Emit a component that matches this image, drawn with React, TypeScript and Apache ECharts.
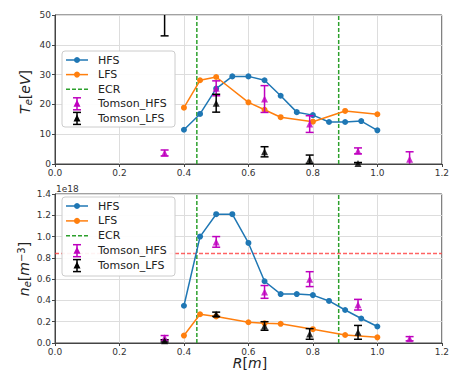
import React, { useEffect, useRef } from "react";
import * as echarts from "echarts";

// Probe positions [m]
const R_HFS = [0.40, 0.45, 0.50, 0.55, 0.60, 0.65, 0.70, 0.75, 0.80, 0.85, 0.90, 0.95, 1.00];
const R_LFS = [0.40, 0.45, 0.50, 0.60, 0.65, 0.70, 0.80, 0.90, 1.00];
// Electron temperature [eV]
const TE_HFS = [11.5, 16.8, 25.3, 29.4, 29.4, 28.1, 22.9, 17.4, 16.4, 14.1, 14.1, 14.4, 11.3];
const TE_LFS = [18.9, 28.1, 29.2, 20.7, 18.2, 15.7, 14.2, 17.8, 16.7];
// Electron density [1e18 m^-3]
const NE_HFS = [0.35, 1.0, 1.21, 1.21, 0.94, 0.58, 0.46, 0.46, 0.45, 0.395, 0.31, 0.23, 0.155];
const NE_LFS = [0.07, 0.27, 0.25, 0.195, 0.185, 0.18, 0.13, 0.075, 0.053];
// Thomson scattering
const R_TOM_HFS = [0.34, 0.50, 0.65, 0.79, 0.94, 1.10];
const TE_TOM_HFS = [3.7, 25.4, 21.8, 13.4, 4.4, 1.6];
const TE_TOM_HFS_ERR = [1.0, 2.5, 4.5, 2.8, 1.0, 2.5];
const NE_TOM_HFS = [0.05, 0.95, 0.48, 0.60, 0.36, 0.04];
const NE_TOM_HFS_ERR = [0.02, 0.05, 0.06, 0.07, 0.05, 0.02];
const R_TOM_LFS = [0.34, 0.50, 0.65, 0.79, 0.94];
const TE_TOM_LFS = [58, 20.4, 4.1, 1.6, 0.2];
const TE_TOM_LFS_ERR = [15, 3.0, 1.7, 1.4, 0.3];
const NE_TOM_LFS = [0.02, 0.27, 0.16, 0.085, 0.10];
const NE_TOM_LFS_ERR = [0.01, 0.02, 0.04, 0.05, 0.065];
// Reference lines
const ECR_R = [0.44, 0.88];
const NE_CUTOFF = 0.84;

const BLUE = "#1f77b4";
const ORANGE = "#ff7f0e";
const GREEN = "#2ca02c";
const MAGENTA = "#bf00bf";
const BLACK = "#000000";
const FONT = "DejaVu Sans";

const zip = (a: number[], b: number[]) => a.map((v, i) => [v, b[i]]);
const zip3 = (a: number[], b: number[], c: number[]) => a.map((v, i) => [v, b[i], c[i]]);

function errSeries(idx: number, data: number[][], color: string) {
  return {
    type: "custom",
    xAxisIndex: idx,
    yAxisIndex: idx,
    clip: true,
    silent: true,
    z: 5,
    data,
    encode: { x: 0, y: 1 },
    renderItem: (params: any, api: any) => {
      const x = api.value(0);
      const y = api.value(1);
      const e = api.value(2);
      const p0 = api.coord([x, y - e]);
      const p1 = api.coord([x, y + e]);
      const w = 4;
      const st = { stroke: color, lineWidth: 1.5 };
      return {
        type: "group",
        children: [
          { type: "line", shape: { x1: p0[0], y1: p0[1], x2: p1[0], y2: p1[1] }, style: st },
          { type: "line", shape: { x1: p0[0] - w, y1: p0[1], x2: p0[0] + w, y2: p0[1] }, style: st },
          { type: "line", shape: { x1: p1[0] - w, y1: p1[1], x2: p1[0] + w, y2: p1[1] }, style: st },
        ],
      };
    },
  };
}

function triSeries(idx: number, data: number[][], color: string) {
  return {
    type: "scatter",
    xAxisIndex: idx,
    yAxisIndex: idx,
    symbol: "triangle",
    symbolSize: 7,
    itemStyle: { color },
    z: 6,
    data: data.map((d) => [d[0], d[1]]),
  };
}

function lineSeries(idx: number, data: number[][], color: string) {
  return {
    type: "line",
    xAxisIndex: idx,
    yAxisIndex: idx,
    symbol: "circle",
    symbolSize: 6,
    showSymbol: true,
    lineStyle: { color, width: 1.5 },
    itemStyle: { color },
    z: 4,
    data,
  };
}

function vline(idx: number, x: number, ymax: number) {
  return {
    type: "line",
    xAxisIndex: idx,
    yAxisIndex: idx,
    symbol: "none",
    lineStyle: { color: GREEN, width: 1.5, type: [4, 2] },
    z: 3,
    data: [
      [x, 0],
      [x, ymax],
    ],
  };
}

function legend(x0: number, y0: number, h: number, step: number) {
  const Z = 100;
  const rows = [0, 1, 2, 3, 4].map((k) => y0 + 9 + k * step);
  const lx1 = x0 + 4;
  const lx2 = x0 + 26;
  const mx = (lx1 + lx2) / 2;
  const tx = x0 + 36;
  const ch: any[] = [
    {
      type: "rect",
      z: Z,
      shape: { x: x0, y: y0, width: 113, height: h, r: 3 },
      style: { fill: "rgba(255,255,255,0.92)", stroke: "#cccccc", lineWidth: 1 },
    },
  ];
  const lineItem = (y: number, color: string) => {
    ch.push({ type: "line", z: Z + 1, shape: { x1: lx1, y1: y, x2: lx2, y2: y }, style: { stroke: color, lineWidth: 1.5 } });
    ch.push({ type: "circle", z: Z + 2, shape: { cx: mx, cy: y, r: 3 }, style: { fill: color } });
  };
  const tomItem = (y: number, color: string) => {
    const st = { stroke: color, lineWidth: 1.5 };
    ch.push({ type: "line", z: Z + 1, shape: { x1: mx, y1: y - 6, x2: mx, y2: y + 6 }, style: st });
    ch.push({ type: "line", z: Z + 1, shape: { x1: mx - 4, y1: y - 6, x2: mx + 4, y2: y - 6 }, style: st });
    ch.push({ type: "line", z: Z + 1, shape: { x1: mx - 4, y1: y + 6, x2: mx + 4, y2: y + 6 }, style: st });
    ch.push({
      type: "polygon",
      z: Z + 2,
      shape: { points: [[mx, y - 4], [mx - 3.5, y + 3], [mx + 3.5, y + 3]] },
      style: { fill: color },
    });
  };
  lineItem(rows[0], BLUE);
  lineItem(rows[1], ORANGE);
  ch.push({
    type: "line",
    z: Z + 1,
    shape: { x1: lx1, y1: rows[2], x2: lx2, y2: rows[2] },
    style: { stroke: GREEN, lineWidth: 1.5, lineDash: [4, 2] },
  });
  tomItem(rows[3], MAGENTA);
  tomItem(rows[4], BLACK);
  const names = ["HFS", "LFS", "ECR", "Tomson_HFS", "Tomson_LFS"];
  names.forEach((n, i) =>
    ch.push({
      type: "text",
      z: Z + 2,
      x: tx,
      y: rows[i],
      style: { text: n, fontFamily: FONT, fontSize: 11, fill: "#222", verticalAlign: "middle", align: "left" },
    })
  );
  return ch;
}

export default function App() {
  const ref = useRef<HTMLDivElement>(null);
  useEffect(() => {
    if (!ref.current) return;
    const chart = echarts.init(ref.current, null, { renderer: "svg" });
    const axisCommon = {
      axisLine: { show: true, lineStyle: { color: "#444", width: 1 } },
      axisTick: { show: true, length: 3, lineStyle: { color: "#444" } },
      splitLine: { show: true, lineStyle: { color: "#dddddd", width: 1 } },
      axisLabel: { fontFamily: FONT, fontSize: 9, color: "#333", margin: 4 },
    };
    const xAxis = (i: number) => ({
      type: "value",
      gridIndex: i,
      min: 0,
      max: 1.2,
      interval: 0.2,
      ...axisCommon,
      axisLabel: { ...axisCommon.axisLabel, formatter: (v: number) => v.toFixed(1) },
    });
    const option: any = {
      animation: false,
      backgroundColor: "#ffffff",
      grid: [
        { left: 55, right: 6, top: 15, height: 149, show: true, borderColor: "#444", borderWidth: 1, backgroundColor: "transparent" },
        { left: 55, right: 6, top: 194, height: 149, show: true, borderColor: "#444", borderWidth: 1, backgroundColor: "transparent" },
      ],
      xAxis: [xAxis(0), xAxis(1)],
      yAxis: [
        { type: "value", gridIndex: 0, min: 0, max: 50, interval: 10, ...axisCommon },
        {
          type: "value",
          gridIndex: 1,
          min: 0,
          max: 1.4,
          interval: 0.2,
          ...axisCommon,
          axisLabel: { ...axisCommon.axisLabel, formatter: (v: number) => v.toFixed(1) },
        },
      ],
      series: [
        vline(0, ECR_R[0], 50),
        vline(0, ECR_R[1], 50),
        lineSeries(0, zip(R_HFS, TE_HFS), BLUE),
        lineSeries(0, zip(R_LFS, TE_LFS), ORANGE),
        errSeries(0, zip3(R_TOM_HFS, TE_TOM_HFS, TE_TOM_HFS_ERR), MAGENTA),
        triSeries(0, zip(R_TOM_HFS, TE_TOM_HFS), MAGENTA),
        errSeries(0, zip3(R_TOM_LFS, TE_TOM_LFS, TE_TOM_LFS_ERR), BLACK),
        triSeries(0, zip(R_TOM_LFS, TE_TOM_LFS), BLACK),

        vline(1, ECR_R[0], 1.4),
        vline(1, ECR_R[1], 1.4),
        {
          type: "line",
          xAxisIndex: 1,
          yAxisIndex: 1,
          symbol: "none",
          lineStyle: { color: "rgba(255,60,60,0.8)", width: 1.5, type: [4, 2] },
          z: 3,
          data: [
            [0, NE_CUTOFF],
            [1.2, NE_CUTOFF],
          ],
        },
        lineSeries(1, zip(R_HFS, NE_HFS), BLUE),
        lineSeries(1, zip(R_LFS, NE_LFS), ORANGE),
        errSeries(1, zip3(R_TOM_HFS, NE_TOM_HFS, NE_TOM_HFS_ERR), MAGENTA),
        triSeries(1, zip(R_TOM_HFS, NE_TOM_HFS), MAGENTA),
        errSeries(1, zip3(R_TOM_LFS, NE_TOM_LFS, NE_TOM_LFS_ERR), BLACK),
        triSeries(1, zip(R_TOM_LFS, NE_TOM_LFS), BLACK),
      ],
      graphic: [
        ...legend(62, 51, 76, 14.6),
        ...legend(62, 197, 79, 14.9),
        {
          type: "text",
          x: 25,
          y: 92,
          rotation: Math.PI / 2,
          style: {
            text: "{i|T}{s|e}{n|[}{i|eV}{n|]}",
            align: "center",
            verticalAlign: "middle",
            fill: "#222",
            rich: {
              i: { fontFamily: FONT, fontSize: 14, fontStyle: "italic", fill: "#222" },
              n: { fontFamily: FONT, fontSize: 14, fill: "#222" },
              s: { fontFamily: FONT, fontSize: 10, fontStyle: "italic", fill: "#222", verticalAlign: "bottom", padding: [6, 0, 0, 0] },
            },
          },
        },
        {
          type: "text",
          x: 24,
          y: 269,
          rotation: Math.PI / 2,
          style: {
            text: "{i|n}{s|e}{n|[}{i|m}{p|−3}{n|]}",
            align: "center",
            verticalAlign: "middle",
            fill: "#222",
            rich: {
              i: { fontFamily: FONT, fontSize: 14, fontStyle: "italic", fill: "#222" },
              n: { fontFamily: FONT, fontSize: 14, fill: "#222" },
              s: { fontFamily: FONT, fontSize: 10, fontStyle: "italic", fill: "#222", verticalAlign: "bottom", padding: [6, 0, 0, 0] },
              p: { fontFamily: FONT, fontSize: 10, fill: "#222", verticalAlign: "top", padding: [0, 0, 6, 0] },
            },
          },
        },
        {
          type: "text",
          x: 250,
          y: 363,
          style: {
            text: "{i|R}{n|[}{i|m}{n|]}",
            align: "center",
            verticalAlign: "middle",
            rich: {
              i: { fontFamily: FONT, fontSize: 14, fontStyle: "italic", fill: "#222" },
              n: { fontFamily: FONT, fontSize: 14, fill: "#222" },
            },
          },
        },
        {
          type: "text",
          x: 56,
          y: 189,
          style: { text: "1e18", fontFamily: FONT, fontSize: 9, fill: "#333", verticalAlign: "middle", align: "left" },
        },
      ],
    };
    chart.setOption(option);
    return () => chart.dispose();
  }, []);
  return <div ref={ref} style={{ width: 452, height: 372, position: "absolute", left: 0, top: 0 }} />;
}
